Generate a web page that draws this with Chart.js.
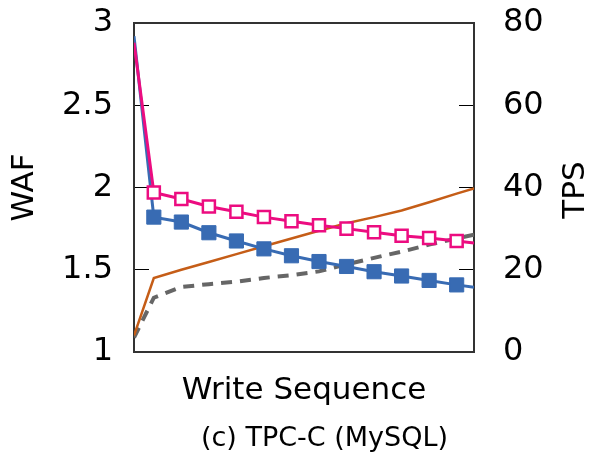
<!DOCTYPE html>
<html>
<head>
<meta charset="utf-8">
<script src="https://cdn.jsdelivr.net/npm/chart.js@4/dist/chart.umd.min.js"></script>
<style>
  body { margin: 0; background: #fff; }
</style>
</head>
<body>
<canvas id="chart" width="589" height="461"></canvas>
<script>
// x positions of the samples (write sequence), markers sit on 1..12
const writeSeq = [0.28, 1, 2, 3, 4, 5, 6, 7, 8, 9, 10, 11, 12, 12.63];

// WAF (left axis)
const wafPink = [2.88, 1.97, 1.93, 1.885, 1.853, 1.82, 1.795, 1.77, 1.75, 1.728, 1.707, 1.693, 1.675, 1.662];
const wafBlue = [2.92, 1.82, 1.79, 1.725, 1.675, 1.627, 1.585, 1.55, 1.52, 1.488, 1.462, 1.435, 1.408, 1.393];

// TPS (right axis)
const tpsOrange = [4, 18, 20, 21.9, 23.8, 25.7, 27.6, 29.5, 31.3, 32.8, 34.4, 36.4, 38.5, 39.8];
const tpsGray = [3.5, 13.2, 15.8, 16.5, 17.1, 18.0, 18.7, 19.6, 21.3, 22.9, 24.4, 26.1, 27.6, 28.5];

const wafTicks = [1, 1.5, 2, 2.5, 3];
const tpsTicks = [0, 20, 40, 60, 80];

const FONT = 'DejaVu Sans';

function pts(ys) {
  return writeSeq.map((x, i) => ({ x: x, y: ys[i] }));
}

// no marker on the first and last sample
function markerSize(r) {
  return ctx => (ctx.dataIndex === 0 || ctx.dataIndex === writeSeq.length - 1) ? 0 : r;
}

const framePlugin = {
  id: 'frame',
  beforeDatasetsDraw(chart) {
    const { ctx, chartArea: a } = chart;
    ctx.save();
    ctx.strokeStyle = '#333';
    ctx.lineWidth = 2;
    ctx.strokeRect(a.left, a.top, a.right - a.left, a.bottom - a.top);
    ctx.restore();
  },
  afterDraw(chart) {
    const ctx = chart.ctx;
    ctx.save();
    ctx.fillStyle = '#000';
    ctx.textAlign = 'center';
    ctx.textBaseline = 'middle';
    // caption under the axis title
    ctx.font = '27px "' + FONT + '"';
    ctx.fillText('(c) TPC-C (MySQL)', 324.5, 439);
    // right axis title reads bottom to top like the left one
    ctx.translate(576, 190);
    ctx.rotate(-Math.PI / 2);
    ctx.font = '31px "' + FONT + '"';
    ctx.fillText('TPS', 0, 0);
    ctx.restore();
  }
};

function fixWidth(w) {
  return scale => {
    scale.width = w;
    scale.paddingTop = 0;
    scale.paddingBottom = 0;
  };
}

const ctx = document.getElementById('chart').getContext('2d');
new Chart(ctx, {
  type: 'line',
  data: {
    datasets: [
      {
        data: pts(wafPink),
        yAxisID: 'y',
        borderColor: '#ec0c80',
        borderWidth: 3,
        pointStyle: 'rect',
        pointRadius: markerSize(8.5),
        pointBorderWidth: 2.5,
        pointBorderColor: '#ec0c80',
        pointBackgroundColor: '#fff'
      },
      {
        data: pts(wafBlue),
        yAxisID: 'y',
        borderColor: '#386bb3',
        borderWidth: 3,
        pointStyle: 'rect',
        pointRadius: markerSize(10),
        pointBorderWidth: 1,
        pointBorderColor: '#386bb3',
        pointBackgroundColor: '#386bb3'
      },
      {
        data: pts(tpsOrange),
        yAxisID: 'y1',
        borderColor: '#c55d17',
        borderWidth: 2.5,
        pointRadius: 0
      },
      {
        data: pts(tpsGray),
        yAxisID: 'y1',
        borderColor: '#666',
        borderWidth: 4,
        borderDash: [11, 8],
        pointRadius: 0
      }
    ]
  },
  options: {
    responsive: false,
    animation: false,
    layout: { padding: { top: 23, left: 0, right: 0, bottom: 51.8 } },
    plugins: {
      legend: { display: false },
      tooltip: { enabled: false },
      title: { display: false }
    },
    scales: {
      x: {
        type: 'linear',
        min: writeSeq[0],
        max: writeSeq[writeSeq.length - 1],
        ticks: { display: false },
        grid: { display: false },
        border: { display: false },
        title: {
          display: true,
          text: 'Write Sequence',
          color: '#000',
          font: { family: FONT, size: 31 },
          padding: 0
        },
        afterFit(scale) {
          scale.height = 57.2;
          scale.paddingLeft = 0;
          scale.paddingRight = 0;
        }
      },
      y: {
        position: 'left',
        min: wafTicks[0],
        max: wafTicks[wafTicks.length - 1],
        afterBuildTicks(scale) { scale.ticks = wafTicks.map(v => ({ value: v })); },
        ticks: {
          color: '#000',
          font: { family: FONT, size: 32 },
          padding: 36,
          callback: v => String(v)
        },
        grid: { drawOnChartArea: false, tickLength: -15, color: '#000', lineWidth: 1 },
        border: { display: false },
        title: {
          display: true,
          text: 'WAF',
          color: '#000',
          font: { family: FONT, size: 31 },
          padding: { top: 6.4, bottom: 0 }
        },
        afterFit: fixWidth(134)
      },
      y1: {
        position: 'right',
        min: tpsTicks[0],
        max: tpsTicks[tpsTicks.length - 1],
        afterBuildTicks(scale) { scale.ticks = tpsTicks.map(v => ({ value: v })); },
        ticks: {
          color: '#000',
          font: { family: FONT, size: 32 },
          padding: 44,
          callback: v => String(v)
        },
        grid: { drawOnChartArea: false, tickLength: -15, color: '#000', lineWidth: 1 },
        border: { display: false },
        afterFit: fixWidth(115)
      }
    }
  },
  plugins: [framePlugin]
});
</script>
</body>
</html>
